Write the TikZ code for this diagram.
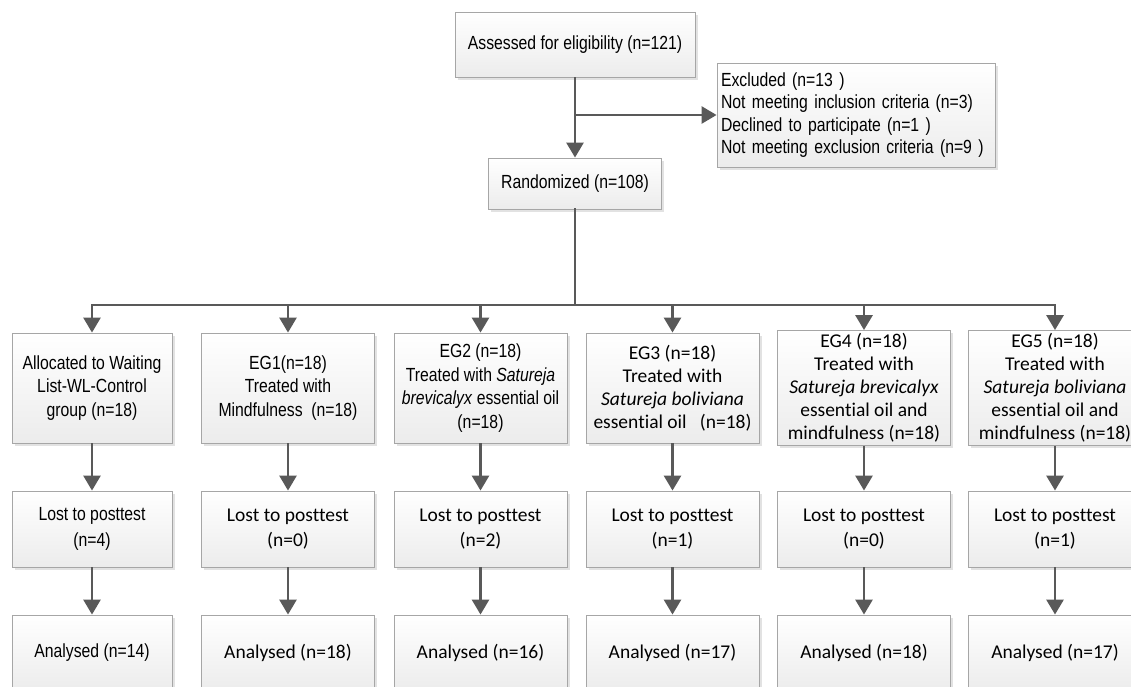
\documentclass[tikz,border=0pt]{standalone}
\usepackage{fontspec}
\setmainfont{Liberation Sans}
\newfontfamily\narrowfont[FakeStretch=0.83]{Liberation Sans}
\newfontfamily\califont[Ligatures=NoCommon]{Carlito}
\usetikzlibrary{arrows.meta,shadows,positioning}

\tikzset{
	box/.style={draw=gray!70, line width=0.9pt, top color=white, bottom color=gray!15, inner sep=3pt, align=center,
		drop shadow={shadow xshift=2.5pt, shadow yshift=-2.5pt, fill=gray!50, opacity=0.45}},
	narrow/.style={font=\narrowfont\fontsize{19}{23.5}\selectfont},
	cali/.style={font=\califont\fontsize{19.5}{23}\selectfont},
	link/.style={draw=black!65, line width=2.8pt, line cap=rect},
	arr/.style={draw=black!65, line width=2.8pt, -{Triangle[length=15pt,width=17pt]}},
	top/.style={box, minimum height=110pt, minimum width=173pt},
	lost/.style={box, minimum height=76pt, minimum width=173pt},
}

\begin{document}
\begin{tikzpicture}[x=1pt, y=-1pt]
	\useasboundingbox (0,0) rectangle (1131,686);
	\clip (0,0) rectangle (1131,686);
	\fill[white] (0,0) rectangle (1131,686);

	% enrolment
	\node[box, narrow, minimum width=240pt, minimum height=65pt] (assess) at (575,44.5) {Assessed for eligibility (n=121)};
	\node[box, narrow, minimum width=278pt, minimum height=104pt, text width=270pt, inner sep=4pt, align=left,
		font=\narrowfont\fontsize{19}{22.3}\selectfont] (excl) at (856,115)
		{Excluded (n=13 )\\Not meeting inclusion criteria (n=3)\\Declined to participate (n=1 )\\Not meeting exclusion criteria (n=9 )};
	\node[box, narrow, minimum width=173pt, minimum height=51pt] (rand) at (575,183.5) {Randomized (n=108)};
	\coordinate (bus) at (575,305);

	% allocation
	\node[top, narrow, minimum width=160pt] (t1) at (92,388) {Allocated to Waiting\\List-WL-Control\\group (n=18)};
	\node[top, narrow] (t2) at (288,388) {EG1(n=18)\\Treated with\\Mindfulness~~(n=18)};
	\node[top, narrow] (t3) at (480.5,388) {EG2 (n=18)\\Treated with \textit{Satureja}\\\textit{brevicalyx} essential oil\\(n=18)};
	\node[top, cali] (t4) at (672.5,388) {EG3 (n=18)\\Treated with\\\textit{Satureja boliviana}\\essential oil~~~(n=18)};
	\node[top, cali] (t5) at (864,388) {EG4 (n=18)\\Treated with\\\textit{Satureja brevicalyx}\\essential oil and\\mindfulness (n=18)};
	\node[top, cali, minimum width=174pt] (t6) at (1055,388) {EG5 (n=18)\\Treated with\\\textit{Satureja boliviana}\\essential oil and\\mindfulness (n=18)};

	% follow up
	\node[lost, narrow, minimum width=160pt, font=\narrowfont\fontsize{19}{26}\selectfont] (l1) at (92,529) {Lost to posttest\\(n=4)};
	\node[lost, cali, font=\califont\fontsize{19.5}{25}\selectfont] (l2) at (288,529) {Lost to posttest\\(n=0)};
	\node[lost, cali, font=\califont\fontsize{19.5}{25}\selectfont] (l3) at (480.5,529) {Lost to posttest\\(n=2)};
	\node[lost, cali, font=\califont\fontsize{19.5}{25}\selectfont] (l4) at (672.5,529) {Lost to posttest\\(n=1)};
	\node[lost, cali, font=\califont\fontsize{19.5}{25}\selectfont] (l5) at (864,529) {Lost to posttest\\(n=0)};
	\node[lost, cali, minimum width=174pt, font=\califont\fontsize{19.5}{25}\selectfont] (l6) at (1055,529) {Lost to posttest\\(n=1)};

	% analysis
	\node[lost, narrow, minimum width=160pt] (a1) at (92,653) {Analysed (n=14)};
	\node[lost, cali] (a2) at (288,653) {Analysed (n=18)};
	\node[lost, cali] (a3) at (480.5,653) {Analysed (n=16)};
	\node[lost, cali] (a4) at (672.5,653) {Analysed (n=17)};
	\node[lost, cali] (a5) at (864,653) {Analysed (n=18)};
	\node[lost, cali, minimum width=174pt] (a6) at (1055,653) {Analysed (n=17)};

	\draw[arr] (assess) -- (rand);
	\draw[arr] (assess.south |- excl.west) -- (excl.west);
	\draw[link] (rand) -- (bus);
	\draw[link] (bus -| t1) -- (bus -| t6);
	\draw[arr] (bus -| t1) -- (t1);
	\draw[arr] (bus -| t2) -- (t2);
	\draw[arr] (bus -| t3) -- (t3);
	\draw[arr] (bus -| t4) -- (t4);
	\draw[arr] (bus -| t5) -- (t5);
	\draw[arr] (bus -| t6) -- (t6);
	\draw[arr] (t1) -- (l1);  \draw[arr] (l1) -- (a1);
	\draw[arr] (t2) -- (l2);  \draw[arr] (l2) -- (a2);
	\draw[arr] (t3) -- (l3);  \draw[arr] (l3) -- (a3);
	\draw[arr] (t4) -- (l4);  \draw[arr] (l4) -- (a4);
	\draw[arr] (t5) -- (l5);  \draw[arr] (l5) -- (a5);
	\draw[arr] (t6) -- (l6);  \draw[arr] (l6) -- (a6);
\end{tikzpicture}
\end{document}
